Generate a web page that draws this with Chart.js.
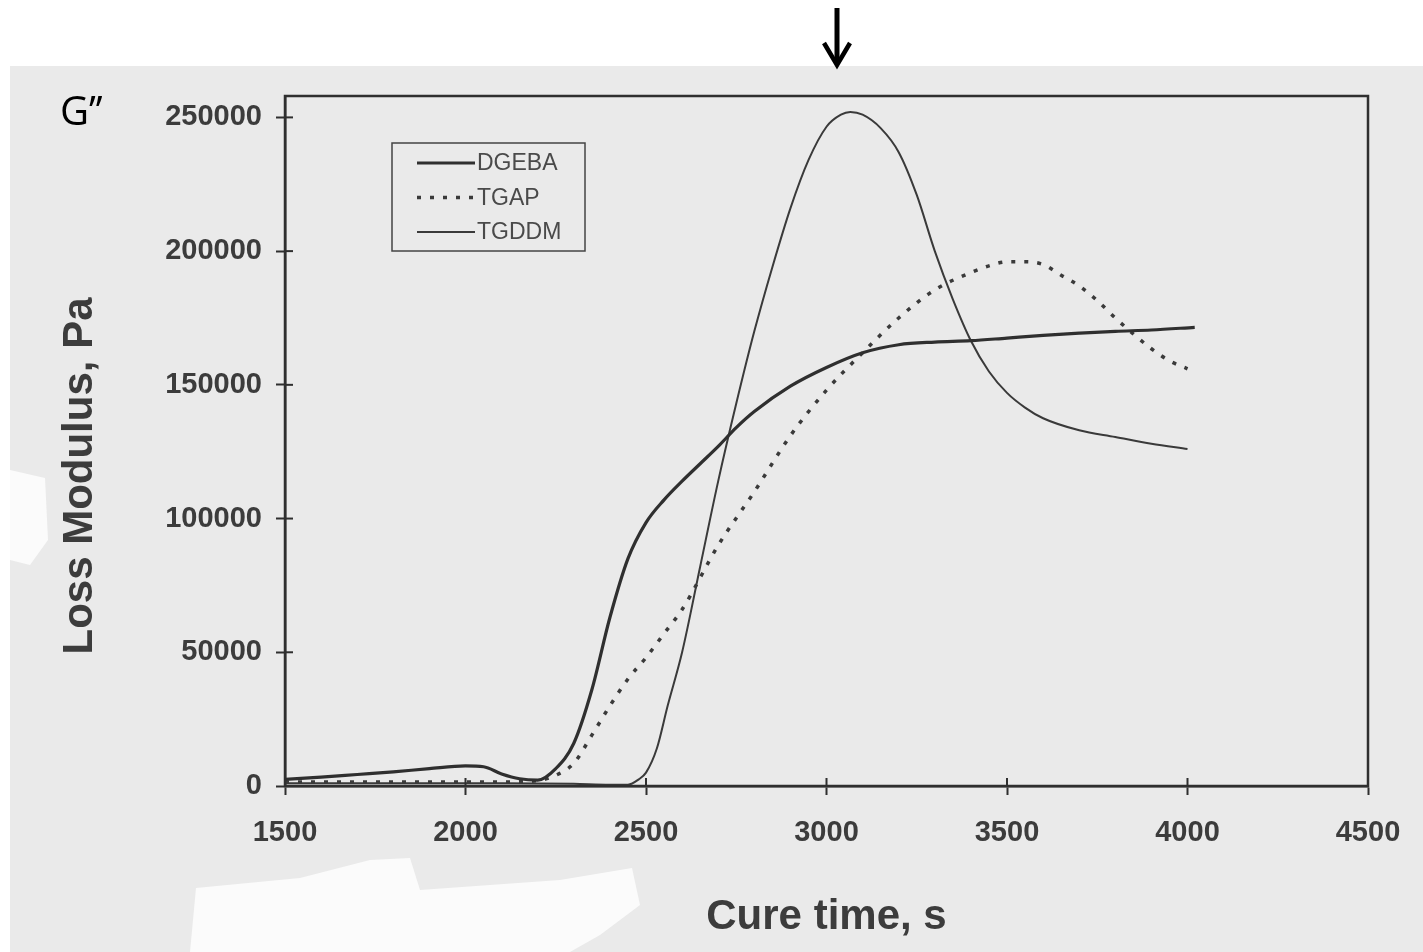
<!DOCTYPE html>
<html lang="en">
<head>
  <meta charset="UTF-8" />
  <title>Loss Modulus vs Cure time</title>
  <script src="https://cdn.jsdelivr.net/npm/chart.js"></script>
  <style>
    html, body { margin: 0; padding: 0; background: #fff; }
    #wrap { width: 1423px; height: 952px; }
  </style>
</head>
<body>
<div id="wrap"><canvas id="gChart" width="1423" height="952"></canvas></div>
<script>
  // values (time in s, G'' in Pa)
  const dgebaTime = [1500, 1600, 1700, 1800, 1900, 2000, 2050, 2100, 2150, 2200, 2250, 2300, 2350, 2400, 2450, 2500, 2550, 2600, 2650, 2700, 2750, 2800, 2900, 3000, 3100, 3200, 3300, 3400, 3500, 3600, 3700, 3800, 3900, 4020];
  const dgebaVals = [2500, 3300, 4300, 5300, 6500, 7500, 7200, 4500, 2700, 2200, 6500, 16000, 36000, 63000, 85000, 98500, 107000, 114000, 120500, 127000, 134000, 140000, 149500, 156500, 162000, 165000, 166000, 166500, 167500, 168500, 169300, 170000, 170500, 171500];

  const tgapTime = [1500, 1700, 1900, 2100, 2200, 2250, 2300, 2350, 2400, 2450, 2500, 2550, 2600, 2700, 2800, 2900, 3000, 3100, 3200, 3300, 3400, 3450, 3500, 3550, 3600, 3650, 3700, 3750, 3800, 3850, 3900, 3950, 4000];
  const tgapVals = [1500, 1500, 1500, 1500, 2000, 4000, 8500, 19000, 30000, 40000, 48000, 57000, 66000, 90000, 110000, 131000, 148000, 162000, 175000, 185500, 192000, 194500, 196000, 196000, 195000, 191000, 187000, 181500, 175000, 169000, 163500, 159000, 156000];

  const tgddmTime = [1500, 1700, 1900, 2100, 2300, 2400, 2450, 2480, 2500, 2530, 2560, 2600, 2650, 2700, 2750, 2800, 2850, 2900, 2950, 3000, 3040, 3066, 3100, 3150, 3200, 3250, 3300, 3350, 3400, 3450, 3500, 3550, 3600, 3700, 3800, 3900, 4000];
  const tgddmVals = [1000, 1000, 1000, 1000, 800, 500, 500, 2500, 5000, 14000, 30000, 50000, 82000, 114000, 143000, 170000, 194000, 216000, 234000, 246500, 251000, 252000, 251000, 246000, 237000, 221000, 200000, 182000, 166500, 155000, 147000, 141500, 137500, 133000, 130500, 128000, 126000];

  const xTicks = [1500, 2000, 2500, 3000, 3500, 4000, 4500];
  const yTicks = [0, 50000, 100000, 150000, 200000, 250000];

  const ink = '#2f2f2f';
  const toPts = (t, v) => t.map((x, i) => ({ x: x, y: v[i] }));

  // scanned page background + annotations
  const pagePlugin = {
    id: 'page',
    beforeDraw(chart) {
      const c = chart.ctx;
      c.save();
      c.fillStyle = '#ffffff';
      c.fillRect(0, 0, chart.width, chart.height);
      c.fillStyle = '#eaeaea';
      c.fillRect(10, 66, chart.width - 10, chart.height - 66);
      c.fillStyle = '#fbfbfb';
      c.beginPath();
      c.moveTo(190, 952); c.lineTo(196, 888); c.lineTo(300, 878); c.lineTo(370, 860);
      c.lineTo(410, 858); c.lineTo(420, 890); c.lineTo(560, 880); c.lineTo(632, 868);
      c.lineTo(640, 905); c.lineTo(600, 935); c.lineTo(570, 952);
      c.closePath(); c.fill();
      c.beginPath();
      c.moveTo(10, 470); c.lineTo(45, 478); c.lineTo(48, 540); c.lineTo(30, 565); c.lineTo(10, 560);
      c.closePath(); c.fill();
      c.restore();
    },
    afterDraw(chart) {
      const c = chart.ctx;
      const a = chart.chartArea;
      c.save();
      // full frame around plot
      c.strokeStyle = ink;
      c.lineWidth = 2.5;
      c.strokeRect(a.left, a.top, a.right - a.left, a.bottom - a.top);
      // inner halves of tick marks
      c.lineWidth = 2;
      const xs = chart.scales.x, ys = chart.scales.y;
      xs.ticks.forEach(t => {
        const px = xs.getPixelForValue(t.value);
        c.beginPath(); c.moveTo(px, a.bottom); c.lineTo(px, a.bottom - 8); c.stroke();
      });
      ys.ticks.forEach(t => {
        const py = ys.getPixelForValue(t.value);
        c.beginPath(); c.moveTo(a.left, py); c.lineTo(a.left + 8, py); c.stroke();
      });
      // legend box
      c.lineWidth = 1.5;
      c.strokeStyle = '#444';
      c.strokeRect(392, 143, 193, 108);
      c.font = '23px "Liberation Sans", Arial, sans-serif';
      c.textBaseline = 'middle';
      chart.data.datasets.forEach((ds, i) => {
        const y = 163 + i * 34.5;
        c.strokeStyle = ds.borderColor;
        c.lineWidth = ds.borderWidth;
        c.setLineDash(ds.borderDash || []);
        c.beginPath(); c.moveTo(417, y); c.lineTo(475, y); c.stroke();
        c.setLineDash([]);
        c.fillStyle = '#4a4a4a';
        c.fillText(ds.label, 477, y + 1);
      });
      // G'' label and arrow
      c.fillStyle = '#000';
      c.font = '40px "Open Sans", "Noto Sans", sans-serif';
      c.textBaseline = 'alphabetic';
      c.fillText('G\u2019\u2019', 60, 125);
      c.strokeStyle = '#000';
      c.lineWidth = 5;
      c.beginPath(); c.moveTo(837, 8); c.lineTo(837, 62); c.stroke();
      c.lineWidth = 4.5;
      c.beginPath(); c.moveTo(824, 43); c.lineTo(837, 65); c.lineTo(850, 43); c.stroke();
      c.restore();
    }
  };

  new Chart(document.getElementById('gChart'), {
    type: 'line',
    data: {
      datasets: [
        { label: 'DGEBA', data: toPts(dgebaTime, dgebaVals), borderColor: ink, borderWidth: 3.2, cubicInterpolationMode: 'monotone' },
        { label: 'TGAP', data: toPts(tgapTime, tgapVals), borderColor: '#3a3a3a', borderWidth: 3.5, borderDash: [4, 9], cubicInterpolationMode: 'monotone' },
        { label: 'TGDDM', data: toPts(tgddmTime, tgddmVals), borderColor: '#3a3a3a', borderWidth: 2, cubicInterpolationMode: 'monotone' }
      ]
    },
    options: {
      responsive: false,
      animation: false,
      devicePixelRatio: 1,
      layout: { padding: { top: 96, right: 55, left: 0, bottom: 0 } },
      elements: { point: { radius: 0 } },
      plugins: { legend: { display: false }, tooltip: { enabled: false } },
      scales: {
        x: {
          type: 'linear', min: 1500, max: 4500,
          afterFit: s => { s.height = 166; },
          afterBuildTicks: s => { s.ticks = xTicks.map(v => ({ value: v })); },
          border: { color: ink, width: 2.5 },
          grid: { drawOnChartArea: false, tickLength: 9, tickColor: ink, tickWidth: 2 },
          ticks: {
            padding: 21, color: '#3c3c3c', maxRotation: 0, autoSkip: false,
            font: { family: '"Liberation Sans", Arial, sans-serif', size: 29, weight: 'bold' },
            callback: v => String(v)
          },
          title: {
            display: true, text: 'Cure time, s', color: '#3c3c3c',
            font: { family: '"Liberation Sans", Arial, sans-serif', size: 42, weight: 'bold' },
            padding: { top: 0, bottom: 9 }
          }
        },
        y: {
          min: 0, max: 258000,
          afterFit: s => { s.width = 285; },
          afterBuildTicks: s => { s.ticks = yTicks.map(v => ({ value: v })); },
          border: { color: ink, width: 2.5 },
          grid: { drawOnChartArea: false, tickLength: 9, tickColor: ink, tickWidth: 2 },
          ticks: {
            padding: 14, color: '#3c3c3c', autoSkip: false,
            font: { family: '"Liberation Sans", Arial, sans-serif', size: 29, weight: 'bold' },
            callback: v => String(v)
          },
          title: {
            display: true, text: 'Loss Modulus, Pa\u00a0\u00a0\u00a0\u00a0\u00a0\u00a0', color: '#3c3c3c',
            font: { family: '"Liberation Sans", Arial, sans-serif', size: 42, weight: 'bold' },
            padding: { top: 55, bottom: 0 }
          }
        }
      }
    },
    plugins: [pagePlugin]
  });
</script>
</body>
</html>
